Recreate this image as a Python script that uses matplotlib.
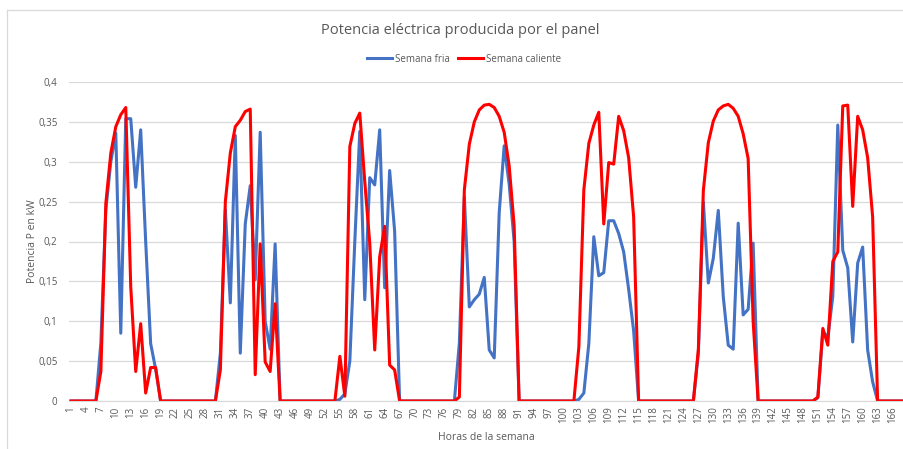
import numpy as np
import matplotlib
matplotlib.use('Agg')
from matplotlib import pyplot as plt
from matplotlib.lines import Line2D

# horas de la semana (1..168)
horas = np.arange(1, 169)

# potencia en kW, una fila por dia (24 h)
semana_fria = [
    0, 0, 0, 0, 0, 0, 0.073, 0.24, 0.30, 0.336, 0.085, 0.354, 0.354, 0.268, 0.34, 0.2, 0.072, 0.04, 0, 0, 0, 0, 0, 0,
    0, 0, 0, 0, 0, 0, 0.06, 0.24, 0.123, 0.333, 0.06, 0.222, 0.27, 0.152, 0.337, 0.1, 0.065, 0.197, 0, 0, 0, 0, 0, 0,
    0, 0, 0, 0, 0, 0, 0.002, 0.009, 0.05, 0.2, 0.338, 0.127, 0.28, 0.271, 0.34, 0.142, 0.289, 0.213, 0, 0, 0, 0, 0, 0,
    0, 0, 0, 0, 0, 0, 0.073, 0.256, 0.118, 0.127, 0.134, 0.155, 0.064, 0.054, 0.236, 0.32, 0.272, 0.2, 0, 0, 0, 0, 0, 0,
    0, 0, 0, 0, 0, 0, 0.002, 0.01, 0.072, 0.206, 0.157, 0.161, 0.226, 0.226, 0.21, 0.187, 0.14, 0.088, 0, 0, 0, 0, 0, 0,
    0, 0, 0, 0, 0, 0, 0.06, 0.25, 0.148, 0.179, 0.239, 0.131, 0.07, 0.065, 0.223, 0.108, 0.115, 0.198, 0, 0, 0, 0, 0, 0,
    0, 0, 0, 0, 0, 0, 0.004, 0.087, 0.08, 0.131, 0.346, 0.189, 0.167, 0.074, 0.173, 0.193, 0.064, 0.024, 0, 0, 0, 0, 0, 0,
]

semana_caliente = [
    0, 0, 0, 0, 0, 0, 0.037, 0.248, 0.311, 0.344, 0.359, 0.368, 0.143, 0.037, 0.097, 0.010, 0.042, 0.042, 0, 0, 0, 0, 0, 0,
    0, 0, 0, 0, 0, 0, 0.039, 0.25, 0.311, 0.344, 0.352, 0.363, 0.366, 0.033, 0.197, 0.049, 0.037, 0.122, 0, 0, 0, 0, 0, 0,
    0, 0, 0, 0, 0, 0, 0.056, 0.006, 0.319, 0.348, 0.361, 0.275, 0.198, 0.064, 0.181, 0.219, 0.045, 0.039, 0, 0, 0, 0, 0, 0,
    0, 0, 0, 0, 0, 0, 0.005, 0.265, 0.322, 0.35, 0.365, 0.371, 0.372, 0.368, 0.357, 0.337, 0.295, 0.22, 0, 0, 0, 0, 0, 0,
    0, 0, 0, 0, 0, 0, 0.068, 0.265, 0.323, 0.346, 0.362, 0.222, 0.299, 0.297, 0.357, 0.339, 0.305, 0.231, 0, 0, 0, 0, 0, 0,
    0, 0, 0, 0, 0, 0, 0.065, 0.264, 0.324, 0.351, 0.365, 0.37, 0.372, 0.367, 0.357, 0.335, 0.304, 0.1, 0, 0, 0, 0, 0, 0,
    0, 0, 0, 0, 0, 0, 0.005, 0.091, 0.07, 0.175, 0.187, 0.37, 0.371, 0.244, 0.357, 0.34, 0.305, 0.231, 0, 0, 0, 0, 0, 0,
]

x_ticks = list(range(1, 167, 3))
y_ticks = [0, 0.05, 0.1, 0.15, 0.2, 0.25, 0.3, 0.35, 0.4]
y_labels = ['0', '0,05', '0,1', '0,15', '0,2', '0,25', '0,3', '0,35', '0,4']

plt.rcParams['font.family'] = ['Open Sans', 'DejaVu Sans']
texto = '#595959'
azul = '#4472C4'
rojo = '#FF0000'

fig = plt.figure(figsize=(9.04, 4.49), dpi=100, facecolor='w')
ax = fig.add_axes([68.5 / 904, 48 / 449, 836.5 / 904, 319 / 449])

ax.plot(horas, semana_fria, color=azul, lw=2.2, solid_joinstyle='round')
ax.plot(horas, semana_caliente, color=rojo, lw=2.2, solid_joinstyle='round')

ax.set_xlim(0.5, 168.5)
ax.set_ylim(0, 0.4)
ax.set_yticks(y_ticks)
ax.set_yticklabels(y_labels)
ax.set_xticks(x_ticks)
ax.set_xticklabels([str(t) for t in x_ticks], rotation=90)
ax.tick_params(axis='both', length=0, colors=texto, labelsize=7)
ax.tick_params(axis='y', pad=8)
ax.tick_params(axis='x', pad=4)

ax.grid(axis='y', color='#d9d9d9', lw=0.9)
ax.set_axisbelow(True)
for s in ['top', 'right', 'left']:
    ax.spines[s].set_visible(False)
ax.spines['bottom'].set_color('#d9d9d9')

ax.set_xlabel('Horas de la semana', color=texto, fontsize=7.5, labelpad=6)
ax.set_ylabel('Potencia P en kW', color=texto, fontsize=7.5, labelpad=0)

fig.text(0.509, 1 - 30 / 449, 'Potencia eléctrica producida por el panel',
         ha='center', va='center', color=texto, fontsize=10.5)

handles = [Line2D([], [], color=azul, lw=2.2), Line2D([], [], color=rojo, lw=2.2)]
fig.legend(handles, ['Semana fria', 'Semana caliente'], loc='center',
           bbox_to_anchor=(464 / 904, 1 - 59 / 449), ncol=2, frameon=False,
           fontsize=7, labelcolor=texto, handlelength=2.6, handletextpad=0.3,
           columnspacing=0.8)

# borde del area del grafico
fig.add_artist(Line2D([7 / 904, 7 / 904], [0, 1 - 10 / 449], color='#d9d9d9', lw=0.9))
fig.add_artist(Line2D([7 / 904, 1], [1 - 10 / 449, 1 - 10 / 449], color='#d9d9d9', lw=0.9))

fig.savefig('out.png', dpi=100, facecolor='w')
